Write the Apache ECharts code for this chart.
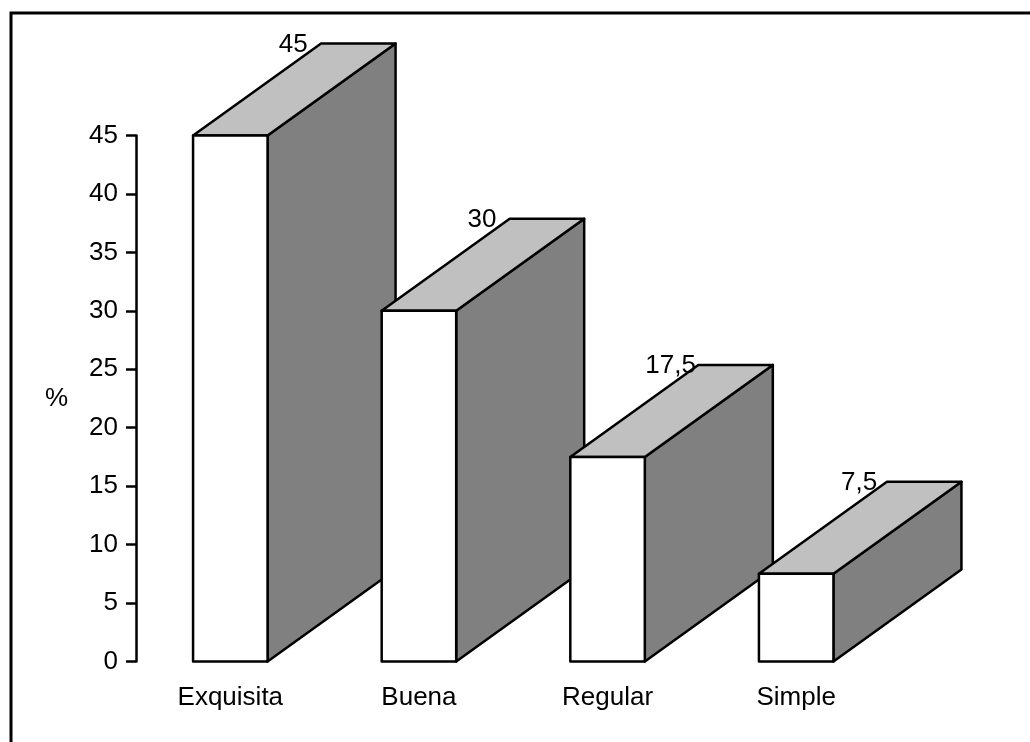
<!DOCTYPE html>
<html>
<head>
<meta charset="utf-8">
<title>Calidad</title>
<style>
  html, body { margin: 0; padding: 0; background: #fff; }
  #chart { width: 1030px; height: 742px; }
</style>
<script src="https://cdn.jsdelivr.net/npm/echarts@6/dist/echarts.min.js"></script>
</head>
<body>
<div id="chart"></div>
<script>
const categories = ['Exquisita', 'Buena', 'Regular', 'Simple'];
const percentages = [45, 30, 17.5, 7.5];
const valueLabels = ['45', '30', '17,5', '7,5'];
const axisTitle = '%';

const FONT = '"Liberation Sans", Arial, sans-serif';
const TEXT_SIZE = 26;
const INK = '#000';
const STROKE = 2.5;
const DEPTH_X = 128;
const DEPTH_Y = -92;
const BAR_RATIO = 0.395;

// Extruded column: side wall, top face, then front face, with the value on the rear edge.
function renderBox(params, api) {
  const index = api.value(0);
  const value = api.value(1);
  const top = api.coord([index, value]);
  const base = api.coord([index, 0]);
  const half = api.size([1, 0])[0] * BAR_RATIO / 2;
  const l = top[0] - half, r = top[0] + half;
  const t = top[1], b = base[1];
  const lineStyle = { stroke: INK, lineWidth: STROKE, lineJoin: 'round' };
  const poly = (points, fill) => ({
    type: 'polygon',
    shape: { points },
    style: Object.assign({ fill }, lineStyle)
  });
  return {
    type: 'group',
    children: [
      poly([[r, t], [r + DEPTH_X, t + DEPTH_Y], [r + DEPTH_X, b + DEPTH_Y], [r, b]], '#808080'),
      poly([[l, t], [l + DEPTH_X, t + DEPTH_Y], [r + DEPTH_X, t + DEPTH_Y], [r, t]], '#c0c0c0'),
      poly([[l, t], [r, t], [r, b], [l, b]], '#ffffff'),
      {
        type: 'text',
        style: {
          x: top[0] + 63,
          y: t + DEPTH_Y + 1,
          text: valueLabels[index],
          align: 'center',
          verticalAlign: 'middle',
          font: TEXT_SIZE + 'px ' + FONT,
          fill: INK
        }
      }
    ]
  };
}

const chart = echarts.init(document.getElementById('chart'), null, { renderer: 'canvas' });
chart.setOption({
  animation: false,
  backgroundColor: '#ffffff',
  graphic: [{
    type: 'polyline',
    silent: true,
    shape: { points: [[11, 742], [11, 13], [1030, 13]] },
    style: { stroke: INK, lineWidth: 3, fill: null }
  }],
  grid: { left: 136, top: 135.5, width: 754.5, height: 526 },
  xAxis: {
    type: 'category',
    data: categories,
    axisLine: { show: false },
    axisTick: { show: false },
    axisLabel: {
      color: INK, fontFamily: FONT, fontSize: TEXT_SIZE, margin: 23, interval: 0
    }
  },
  yAxis: {
    type: 'value',
    min: 0,
    max: 45,
    interval: 5,
    name: axisTitle,
    nameLocation: 'middle',
    nameRotate: 0,
    nameGap: 68,
    nameTextStyle: { color: INK, fontFamily: FONT, fontSize: TEXT_SIZE },
    splitLine: { show: false },
    axisLine: { show: true, lineStyle: { color: INK, width: STROKE } },
    axisTick: { show: true, length: 10, lineStyle: { color: INK, width: STROKE } },
    axisLabel: { color: INK, fontFamily: FONT, fontSize: TEXT_SIZE, margin: 18 }
  },
  series: [{
    type: 'custom',
    clip: false,
    renderItem: renderBox,
    encode: { x: 0, y: 1 },
    data: percentages.map((v, i) => [i, v])
  }]
});
</script>
</body>
</html>
